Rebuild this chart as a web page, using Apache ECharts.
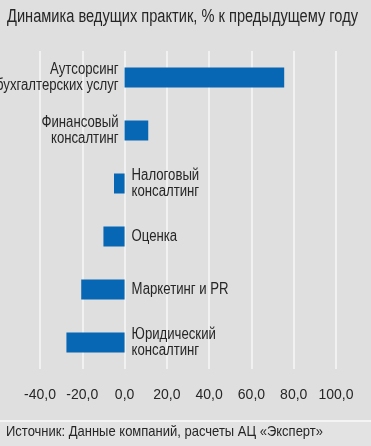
<!DOCTYPE html>
<html><head><meta charset="utf-8">
<script src="https://cdn.jsdelivr.net/npm/echarts@6/dist/echarts.min.js"></script>
<style>html,body{margin:0;padding:0;background:#dfdfdf;}#c{width:371px;height:446px;}</style>
</head><body><div id="c"></div>
<script>
const titleText = 'Динамика ведущих практик, % к предыдущему году';
const sourceText = 'Источник: Данные компаний, расчеты АЦ «Эксперт»';
const categories = ['Аутсорсинг\nбухгалтерских услуг', 'Финансовый\nконсалтинг', 'Налоговый\nконсалтинг', 'Оценка', 'Маркетинг и PR', 'Юридический\nконсалтинг'];
const values = [75.5, 11.2, -5, -10, -20.5, -27.5];
const tickMin = -40, tickMax = 100, tickStep = 20;

const FONT = '"Liberation Sans", Arial, sans-serif';
const TXT = '#262626';
const cv = document.createElement('canvas').getContext('2d');
function textW(t, size) { cv.font = size + 'px ' + FONT; return cv.measureText(t).width; }

const chart = echarts.init(document.getElementById('c'), null, {renderer: 'canvas'});
chart.setOption({
  backgroundColor: '#dfdfdf',
  animation: false,
  grid: {left: 40, right: 35, top: 51, bottom: 77, containLabel: false},
  xAxis: {
    type: 'value', min: tickMin, max: tickMax, interval: tickStep,
    axisLine: {show: false}, axisTick: {show: false},
    splitLine: {show: true, lineStyle: {color: '#f7f7f7', width: 1.5}},
    axisLabel: {
      margin: 19, fontFamily: FONT, fontSize: 14, color: TXT,
      formatter: v => v.toFixed(1).replace('.', ',')
    }
  },
  yAxis: {
    type: 'category', data: categories, inverse: true,
    axisLine: {show: false}, axisTick: {show: false}, axisLabel: {show: false},
    splitLine: {show: false}
  },
  series: [{
    type: 'bar', data: values, barWidth: 20,
    itemStyle: {color: '#0867b4'}, silent: true
  }]
});

// Text in condensed look: real text, horizontally scaled
const titleSize = 18, titleScale = 351 / textW(titleText, titleSize);
const srcSize = 15, srcScale = 317 / textW(sourceText, srcSize);
const catSize = 16, catScale = 97 / textW('Маркетинг и PR', catSize);

const zeroX = chart.convertToPixel({xAxisIndex: 0}, 0);
const catGraphics = categories.map((c, i) => {
  const y = chart.convertToPixel({yAxisIndex: 0}, i);
  const pos = values[i] >= 0;
  return {
    type: 'text', silent: true,
    x: pos ? zeroX - 6 : zeroX + 7, y: y,
    scaleX: catScale, scaleY: 1,
    style: {text: c, align: pos ? 'right' : 'left', verticalAlign: 'middle',
      fontFamily: FONT, fontSize: catSize, lineHeight: 16, fill: TXT}
  };
});

chart.setOption({
  graphic: [
    {type: 'text', silent: true, x: 7, y: 17, scaleX: titleScale,
      style: {text: titleText, align: 'left', verticalAlign: 'middle', fontFamily: FONT, fontSize: titleSize, fill: TXT}},
    {type: 'rect', silent: true, shape: {x: 0, y: 421, width: 371, height: 25}, style: {fill: '#e3e3e3'}},
    {type: 'rect', silent: true, shape: {x: 0, y: 420, width: 371, height: 2}, style: {fill: '#f4f4f4'}},
    {type: 'text', silent: true, x: 6, y: 432, scaleX: srcScale,
      style: {text: sourceText, align: 'left', verticalAlign: 'middle', fontFamily: FONT, fontSize: srcSize, fill: TXT}}
  ].concat(catGraphics)
});
</script></body></html>
